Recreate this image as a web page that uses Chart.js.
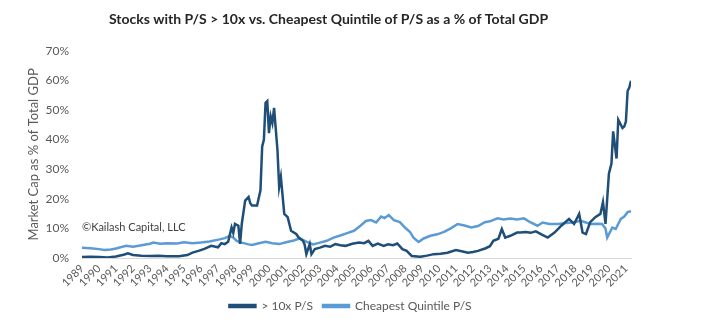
<!DOCTYPE html>
<html>
<head>
<meta charset="utf-8">
<script src="https://cdn.jsdelivr.net/npm/chart.js@4"></script>
<style>
  body { margin: 0; background: #fff; }
  #wrap { width: 714px; height: 330px; }
</style>
</head>
<body>
<div id="wrap"><canvas id="myChart"></canvas></div>
<script>
// years on the x axis
var yearTicks = [1989,1990,1991,1992,1993,1994,1995,1996,1997,1998,1999,2000,2001,2002,2003,2004,2005,2006,2007,2008,2009,2010,2011,2012,2013,2014,2015,2016,2017,2018,2019,2020,2021];

// > 10x P/S  (date as decimal year, value in % of GDP)
var darkDates = [1989.0,1989.5,1990.0,1990.5,1991.0,1991.5,1991.7,1992.0,1992.5,1993.0,1993.5,1994.0,1994.7,1995.2,1995.5,1995.9,1996.2,1996.6,1997.0,1997.2,1997.4,1997.6,1997.8,1997.9,1998.0,1998.2,1998.3,1998.4,1998.6,1998.8,1998.9,1999.0,1999.3,1999.5,1999.6,1999.7,1999.8,1999.9,2000.0,2000.1,2000.2,2000.3,2000.5,2000.6,2000.7,2000.9,2001.1,2001.3,2001.6,2001.75,2002.0,2002.1,2002.2,2002.4,2002.5,2002.7,2003.0,2003.3,2003.6,2003.9,2004.2,2004.5,2004.9,2005.3,2005.6,2005.85,2006.1,2006.4,2006.75,2007.0,2007.3,2007.55,2007.85,2008.1,2008.4,2008.9,2009.3,2009.7,2010.1,2010.5,2011.0,2011.4,2011.7,2012.0,2012.3,2012.75,2013.0,2013.2,2013.5,2013.7,2013.9,2014.2,2014.6,2014.8,2015.1,2015.4,2015.7,2016.0,2016.4,2016.8,2017.2,2017.65,2017.95,2018.25,2018.45,2018.65,2018.9,2019.2,2019.5,2019.65,2019.8,2020.0,2020.15,2020.25,2020.45,2020.55,2020.8,2020.9,2021.0,2021.1,2021.2,2021.3];
var darkValues = [0.3,0.4,0.3,0.2,0.5,1.2,1.6,1.0,0.8,0.7,0.8,0.6,0.6,1.0,1.8,2.5,3.1,4.1,3.6,5.0,4.7,5.5,10.3,8.5,11.5,10.9,4.8,11.5,19.4,20.6,18.5,17.7,17.7,22.9,37.6,39.9,52.4,53.0,42.2,47.9,45.6,50.7,36.5,24.0,27.4,14.9,13.8,9.2,8.1,6.9,5.8,4.5,1.3,4.7,1.3,3.0,3.5,4.1,3.8,4.7,4.3,4.1,4.8,5.2,5.0,5.8,4.1,4.9,4.1,4.6,4.3,4.9,3.0,2.4,0.7,0.4,0.8,1.3,1.4,1.8,2.7,2.2,1.8,2.0,2.4,3.3,4.0,5.8,6.5,9.8,6.9,7.5,8.6,8.6,8.8,8.5,9.0,8.1,6.9,8.6,10.9,13.2,11.5,14.9,8.6,8.1,12.1,13.8,14.9,18.9,11.5,28.5,31.9,42.8,33.6,46.7,43.9,44.4,46.1,56.4,57.6,59.9];

// Cheapest Quintile P/S
var lightDates = [1989.0,1989.5,1990.0,1990.3,1990.7,1991.0,1991.6,1992.0,1992.5,1993.0,1993.2,1993.6,1994.0,1994.6,1995.0,1995.5,1996.0,1996.5,1997.1,1997.4,1997.7,1997.9,1998.1,1998.4,1998.8,1999.0,1999.4,1999.8,2000.2,2000.6,2001.0,2001.4,2001.8,2002.2,2002.6,2003.0,2003.4,2003.8,2004.2,2004.6,2005.0,2005.4,2005.7,2006.0,2006.3,2006.6,2006.8,2007.05,2007.35,2007.7,2008.0,2008.3,2008.5,2008.8,2009.1,2009.5,2009.9,2010.3,2010.7,2011.1,2011.5,2011.9,2012.3,2012.7,2013.0,2013.45,2013.8,2014.2,2014.6,2015.0,2015.4,2015.8,2016.1,2016.5,2017.0,2017.5,2017.95,2018.35,2018.9,2019.3,2019.6,2019.8,2019.9,2020.2,2020.4,2020.7,2020.9,2021.1,2021.3];
var lightValues = [3.5,3.3,3.0,2.7,2.9,3.2,4.1,3.8,4.3,4.8,5.2,4.8,5.0,4.9,5.3,5.0,5.2,5.6,6.3,6.7,7.5,6.9,5.8,5.2,4.6,4.4,5.0,5.5,5.0,4.7,5.3,5.8,6.6,5.5,4.6,5.2,5.8,6.9,7.6,8.4,9.2,11.0,12.5,12.8,12.0,14.0,13.5,14.5,12.8,12.1,10.3,8.8,6.9,5.4,6.6,7.5,8.0,8.8,10.0,11.5,11.0,10.3,10.8,12.1,12.4,13.4,13.0,13.3,13.0,13.4,12.0,10.9,12.0,11.5,11.5,11.8,12.1,12.6,11.5,11.6,11.5,10.0,6.9,10.3,9.8,13.2,14.0,15.5,15.8];

var yTicks = [0,10,20,30,40,50,60,70];

function toPoints(xs, ys) {
  return xs.map(function(x, i) { return {x: x, y: ys[i]}; });
}

var font = "Lato, 'Open Sans', sans-serif";
var grey = '#595959';

// copyright note inside the plot + nudge the legend to sit under the plot
var noteLabel = {
  id: 'noteLabel',
  afterLayout: function(chart) {
    chart.legend.left += 22;
    chart.legend.right += 22;
  },
  afterDatasetsDraw: function(chart) {
    var c = chart.ctx;
    c.save();
    c.font = '11px ' + font;
    c.fillStyle = '#404040';
    c.textBaseline = 'middle';
    c.fillText('\u00A9Kailash Capital, LLC', chart.chartArea.left, chart.scales.y.getPixelForValue(10.2));
    c.restore();
  }
};

var ctx = document.getElementById('myChart').getContext('2d');
var myChart = new Chart(ctx, {
  type: 'line',
  data: {
    datasets: [{
      label: '> 10x P/S',
      data: toPoints(darkDates, darkValues),
      borderColor: '#1F4E79',
      backgroundColor: '#1F4E79',
      borderWidth: 2.5,
      pointRadius: 0,
      tension: 0
    }, {
      label: 'Cheapest Quintile P/S',
      data: toPoints(lightDates, lightValues),
      borderColor: '#5B9BD5',
      backgroundColor: '#5B9BD5',
      borderWidth: 2.5,
      pointRadius: 0,
      tension: 0
    }]
  },
  options: {
    responsive: true,
    maintainAspectRatio: false,
    animation: false,
    layout: { padding: { left: 26, right: 83, top: 0, bottom: 8 } },
    plugins: {
      title: {
        display: true,
        text: 'Stocks with P/S > 10x vs. Cheapest Quintile of P/S as a % of Total GDP',
        color: '#262626',
        font: { family: font, size: 14, weight: 'bold' },
        padding: { top: 11, bottom: 23 }
      },
      legend: {
        position: 'bottom',
        labels: {
          color: grey,
          font: { family: font, size: 12 },
          boxWidth: 26,
          boxHeight: 2,
          padding: 10
        }
      },
      tooltip: { enabled: false }
    },
    scales: {
      x: {
        type: 'linear',
        min: 1989,
        max: 2021.3,
        afterBuildTicks: function(s) {
          s.ticks = yearTicks.map(function(v) { return {value: v}; });
        },
        afterFit: function(s) { s.height = 32; },
        grid: { display: false, drawTicks: false },
        border: { display: true, color: '#D9D9D9' },
        ticks: {
          color: grey,
          font: { family: font, size: 11 },
          autoSkip: false,
          maxRotation: 45,
          minRotation: 45,
          padding: 4,
          callback: function(v) { return String(v); }
        }
      },
      y: {
        min: 0,
        max: 70,
        afterBuildTicks: function(s) {
          s.ticks = yTicks.map(function(v) { return {value: v}; });
        },
        afterFit: function(s) { s.width = 56; },
        grid: { display: false, drawTicks: false },
        border: { display: false },
        title: {
          display: true,
          text: 'Market Cap as % of Total GDP',
          color: grey,
          font: { family: font, size: 13 },
          padding: { top: 0, bottom: 0 }
        },
        ticks: {
          color: grey,
          font: { family: font, size: 12 },
          padding: 13,
          callback: function(v) { return v + '%'; }
        }
      }
    }
  },
  plugins: [noteLabel]
});
</script>
</body>
</html>
